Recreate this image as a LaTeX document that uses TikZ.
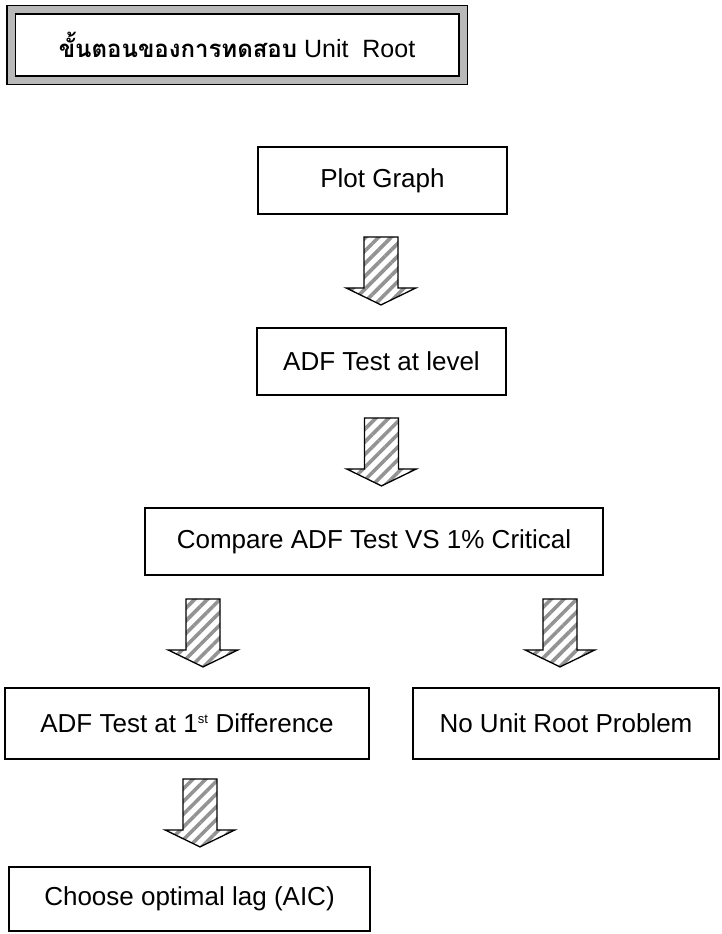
\documentclass[tikz,border=0pt]{standalone}
\usepackage{fontspec}
\setmainfont{Liberation Sans}
\newfontfamily\thaifont[Script=Thai]{Loma}
\usetikzlibrary{patterns.meta}

\tikzset{
  stepbox/.style={draw=black, line width=1.8pt, fill=white, inner sep=0pt,
    font=\fontsize{26}{30}\selectfont},
  titlebox/.style={draw=black, line width=1.5pt, double=gray!55,
    double distance=7pt, fill=white, inner sep=0pt,
    font=\fontsize{25}{29}\selectfont},
  blockarrow/.pic={
    \path[pattern={Lines[angle=45,distance=9pt,line width=3.6pt]},
      pattern color=gray!85, draw=black, line width=1.3pt, line join=miter]
      (-17,0) -- (17,0) -- (17,51) -- (35,51) -- (0,68) -- (-35,51)
      -- (-17,51) -- cycle;
  }
}

\begin{document}
\begin{tikzpicture}[x=1pt, y=-1pt]
\useasboundingbox (0,0) rectangle (721,934);

% heading
\node[titlebox, minimum width=452pt, minimum height=70pt] (title) at (237,45)
  {\raisebox{-7pt}{{\thaifont\bfseries\fontsize{24}{28}\selectfont ขั้นตอนของการทดสอบ} Unit\ \ Root}};

% steps
\node[stepbox, minimum width=249pt, minimum height=67pt] (plot) at (382.5,180.5) {Plot Graph};
\node[stepbox, minimum width=249pt, minimum height=67pt] (level) at (381.5,361.5) {ADF Test at level};
\node[stepbox, minimum width=458pt, minimum height=67pt] (cmp) at (374,541.5) {Compare ADF Test VS 1\% Critical};
\node[stepbox, minimum width=364pt, minimum height=71pt] (diff) at (187,723.5)
  {ADF Test at 1\textsuperscript{\fontsize{13}{13}\selectfont st} Difference};
\node[stepbox, minimum width=306pt, minimum height=71pt] (nounit) at (566,723.5) {No Unit Root Problem};
\node[stepbox, minimum width=361pt, minimum height=64pt] (lag) at (189.5,899) {Choose optimal lag (AIC)};

% hatched block arrows between the steps
\pic at ([xshift=-1.5pt,yshift=-22pt]plot.south) {blockarrow};
\pic at ([yshift=-22pt]level.south) {blockarrow};
\pic at ([xshift=-171pt,yshift=-23pt]cmp.south) {blockarrow};
\pic at ([xshift=186pt,yshift=-23pt]cmp.south) {blockarrow};
\pic at ([xshift=13pt,yshift=-19pt]diff.south) {blockarrow};
\end{tikzpicture}
\end{document}
